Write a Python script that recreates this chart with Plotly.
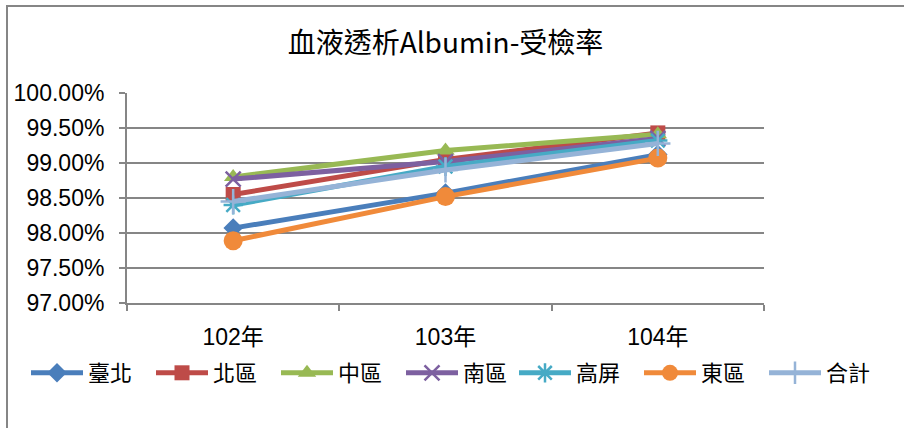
import plotly.graph_objects as go

# Hemodialysis albumin test rate by region, years 102-104 (ROC calendar)
years = ["102年", "103年", "104年"]
taipei = [98.07, 98.57, 99.12]
north = [98.55, 99.05, 99.43]
central = [98.80, 99.18, 99.41]
south = [98.77, 99.02, 99.35]
kaoping = [98.40, 98.95, 99.32]
east = [97.89, 98.52, 99.07]
total = [98.45, 98.90, 99.28]

y_ticks = [97.0, 97.5, 98.0, 98.5, 99.0, 99.5, 100.0]

# (name, values, colour, marker, legend row part)
series = [
    ("臺北", taipei, "#4A7EBB", dict(symbol="diamond", size=15), "legend"),
    ("北區", north, "#BE4B48", dict(symbol="square", size=15), "legend"),
    ("中區", central, "#98B954", dict(symbol="triangle-up", size=16), "legend"),
    ("南區", south, "#7D60A0", dict(symbol="x-thin-open", size=15, line=dict(width=2.5, color="#7D60A0")), "legend"),
    ("高屏", kaoping, "#46AAC5", dict(symbol="asterisk-open", size=16, line=dict(width=2.5, color="#46AAC5")), "legend2"),
    ("東區", east, "#F08A3A", dict(symbol="circle", size=19), "legend2"),
    ("合計", total, "#95B3D7", dict(symbol="cross-thin-open", size=18, line=dict(width=2.5, color="#95B3D7")), "legend2"),
]

fig = go.Figure()
for name, vals, color, marker, leg in series:
    fig.add_trace(go.Scatter(
        x=years, y=vals, name=name, mode="lines+markers",
        line=dict(color=color, width=5),
        marker=dict(color=color, **marker),
        legend=leg,
    ))

grid = "#868686"
tick_font = dict(family="Liberation Sans, Noto Sans CJK TC", size=23, color="#000000")
legend_common = dict(orientation="h", xref="container", xanchor="left",
                     yref="container", y=1 - 373 / 428, yanchor="middle",
                     font=dict(family="Noto Sans CJK TC", size=22, color="#000000"),
                     itemwidth=52, entrywidth=58, tracegroupgap=0,
                     bgcolor="rgba(0,0,0,0)")

fig.update_layout(
    width=904, height=428,
    margin=dict(l=127, r=140, t=93, b=125, autoexpand=False),
    paper_bgcolor="white", plot_bgcolor="white",
    title=dict(text="血液透析Albumin-受檢率", x=0.5, xref="paper", xanchor="center",
               y=1 - 43 / 428, yanchor="middle",
               font=dict(family="Noto Sans CJK TC", size=28, color="#000000")),
    legend=dict(x=26 / 904, **legend_common),
    legend2=dict(x=514 / 904, **legend_common),
    showlegend=True,
)

fig.update_yaxes(
    range=[97.0, 100.0], tickvals=y_ticks,
    ticktext=[f"{v:.2f}%" for v in y_ticks],
    showgrid=True, gridcolor=grid, gridwidth=2,
    showline=True, linecolor=grid, linewidth=2,
    ticks="outside", ticklen=6, tickcolor=grid, tickwidth=2,
    tickfont=tick_font, ticklabelstandoff=10, zeroline=False,
)
fig.update_xaxes(
    type="category", range=[-0.5, 2.5], tickson="boundaries",
    showgrid=False, showline=True, linecolor=grid, linewidth=2,
    ticks="outside", ticklen=6, tickcolor=grid, tickwidth=2,
    tickfont=tick_font, ticklabelstandoff=12,
)

# Chart frame
fig.add_shape(type="rect", xref="paper", yref="paper",
              x0=(7 - 127) / 637, x1=1.5, y0=-0.8, y1=(303 - 6) / 210,
              line=dict(color=grid, width=2), fillcolor="rgba(0,0,0,0)", layer="below")

fig.write_html("out.html")
